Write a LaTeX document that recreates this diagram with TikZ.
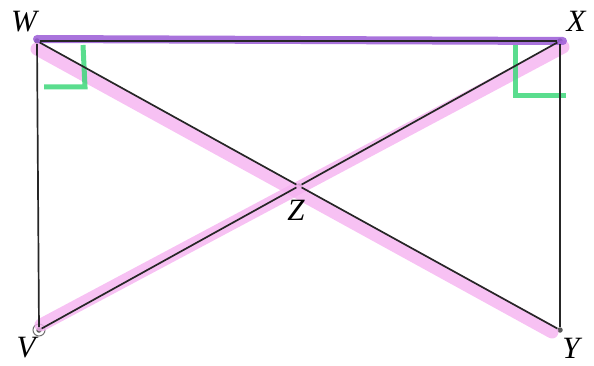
\documentclass[tikz,border=0pt]{standalone}
\usepackage{fontspec}
\setmainfont{Liberation Serif}
\usepackage{tikz}
\usetikzlibrary{positioning, calc}
\usepackage{xcolor}
\definecolor{hlpink}{HTML}{F5B2F0}
\definecolor{hlpurple}{HTML}{9A5BD6}
\definecolor{hlgreen}{HTML}{3DD77A}

\begin{document}
\begin{tikzpicture}[
  x=1pt, y=-1pt,
  vertex/.style={circle, fill=black!65, inner sep=0pt, minimum size=5.5pt},
  ptname/.style={font=\fontsize{31}{31}\selectfont\itshape, inner sep=0pt},
  side/.style={line width=1.7pt, black!85},
  hilite/.style={line width=13pt, line cap=round, opacity=0.8},
  rightmark/.style={line width=5pt, hlgreen, opacity=0.85}
]
  \useasboundingbox (0,0) rectangle (594,366);

  % Corners and centre
  \node[vertex] (W) at (37,41) {};
  \node[vertex] (X) at (560,41) {};
  \node[vertex] (Y) at (560,330) {};
  \node[vertex] (V) at (39,330) {};
  \node[vertex] (Z) at (299,186) {};
  \node[circle, draw=black!55, line width=1pt, minimum size=12pt, inner sep=0pt]
    (Vring) at (V) {};

  % Highlights
  \draw[hilite, hlpink] ([shift={(0,8)}]W.center) -- ([shift={(-8,2)}]Y.center);
  \draw[hilite, hlpink] ([shift={(2,-5)}]V.center) -- ([shift={(3,6)}]X.center);
  \draw[line width=8pt, line cap=round, hlpurple, opacity=0.85]
    ([shift={(0,-2)}]W.center) -- ([shift={(3,0)}]X.center);

  % Right angle marks
  \draw[rightmark] (83,45) -- (85,87) -- (44,87);
  \draw[rightmark] (515,45) -- (515,96) -- (566,96);

  % Sides and diagonals
  \draw[side] (W) -- (X) -- (Y);
  \draw[side] (W) -- (V);
  \draw[side] (W) -- (Z) -- (Y);
  \draw[side] (V) -- (Z) -- (X);

  % Labels
  \node[ptname] (lW) at (24,22) {W};
  \node[ptname] (lX) at (576,21) {X};
  \node[ptname] (lV) at (26,348) {V};
  \node[ptname] (lY) at (571,348) {Y};
  \node[ptname] (lZ) at (296,210) {Z};
\end{tikzpicture}
\end{document}
